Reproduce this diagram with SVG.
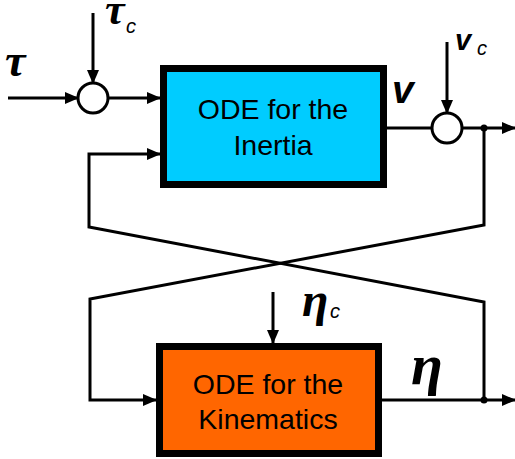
<svg xmlns="http://www.w3.org/2000/svg" width="515" height="459" viewBox="0 0 515 459">
<defs>
<marker id="ah" markerUnits="userSpaceOnUse" markerWidth="14" markerHeight="12" refX="13" refY="6" orient="auto">
<path d="M0,0 L14,6 L0,12 Z" fill="#000"/>
</marker>
<style>
.ln{stroke:#000;stroke-width:3;fill:none}
.box{stroke:#000;stroke-width:7}
.sum{fill:#fff;stroke:#000;stroke-width:3}
.lbl{font-family:"Liberation Sans",Arial,sans-serif;font-size:28.5px;fill:#000;text-anchor:middle}
.gk{font-family:"Liberation Serif","DejaVu Serif",serif;font-style:italic;font-weight:bold;fill:#000}
.sub{font-family:"Liberation Sans",Arial,sans-serif;font-style:italic;font-size:20px;fill:#000}
.vv{font-family:"Liberation Sans",Arial,sans-serif;font-style:italic;font-weight:bold;fill:#000}
</style>
</defs>
<rect width="515" height="459" fill="#fff"/>
<g id="connectors">
<line class="ln" x1="8" y1="98" x2="78" y2="98" marker-end="url(#ah)"/>
<line class="ln" x1="93" y1="13" x2="93" y2="83" marker-end="url(#ah)"/>
<line class="ln" x1="108" y1="98" x2="160" y2="98" marker-end="url(#ah)"/>
<line class="ln" x1="387" y1="128" x2="433" y2="128"/>
<line class="ln" x1="447" y1="42" x2="447" y2="113" marker-end="url(#ah)"/>
<line class="ln" x1="461" y1="128" x2="515" y2="128" marker-end="url(#ah)"/>
<polyline class="ln" points="484,128 484,225 90,299 90,400 156,400" marker-end="url(#ah)"/>
<line class="ln" x1="382" y1="400" x2="515" y2="400" marker-end="url(#ah)"/>
<polyline class="ln" points="484,400 484,302 89,227 89,154 160,154" marker-end="url(#ah)"/>
<line class="ln" x1="273" y1="292" x2="273" y2="343" marker-end="url(#ah)"/>
<circle cx="484" cy="128" r="3.5" fill="#000"/>
<circle cx="484" cy="400" r="3.5" fill="#000"/>
</g>
<g id="sum1"><circle class="sum" cx="93" cy="98" r="15"/></g>
<g id="sum2"><circle class="sum" cx="447" cy="128" r="15"/></g>
<g id="inertia">
<rect class="box" x="163.5" y="68.5" width="220" height="116" fill="#00CCFF"/>
<text class="lbl" x="273" y="119">ODE for the</text>
<text class="lbl" x="273" y="155">Inertia</text>
</g>
<g id="kinematics">
<rect class="box" x="159.5" y="346.5" width="219" height="107" fill="#FF6600"/>
<text class="lbl" x="268" y="394">ODE for the</text>
<text class="lbl" x="268" y="429">Kinematics</text>
</g>
<g id="labels">
<text class="gk" x="5" y="76" font-size="46">τ</text>
<text class="gk" x="105" y="24" font-size="44">τ</text><text class="sub" x="126" y="33">c</text>
<text class="vv" x="392" y="103" font-size="39">v</text>
<text class="vv" x="455" y="50" font-size="29">v</text><text class="sub" x="477" y="55">c</text>
<text class="gk" x="302" y="316" font-size="48">η</text><text class="sub" x="330" y="318">c</text>
<text class="gk" x="411" y="384" font-size="58">η</text>
</g>
</svg>
